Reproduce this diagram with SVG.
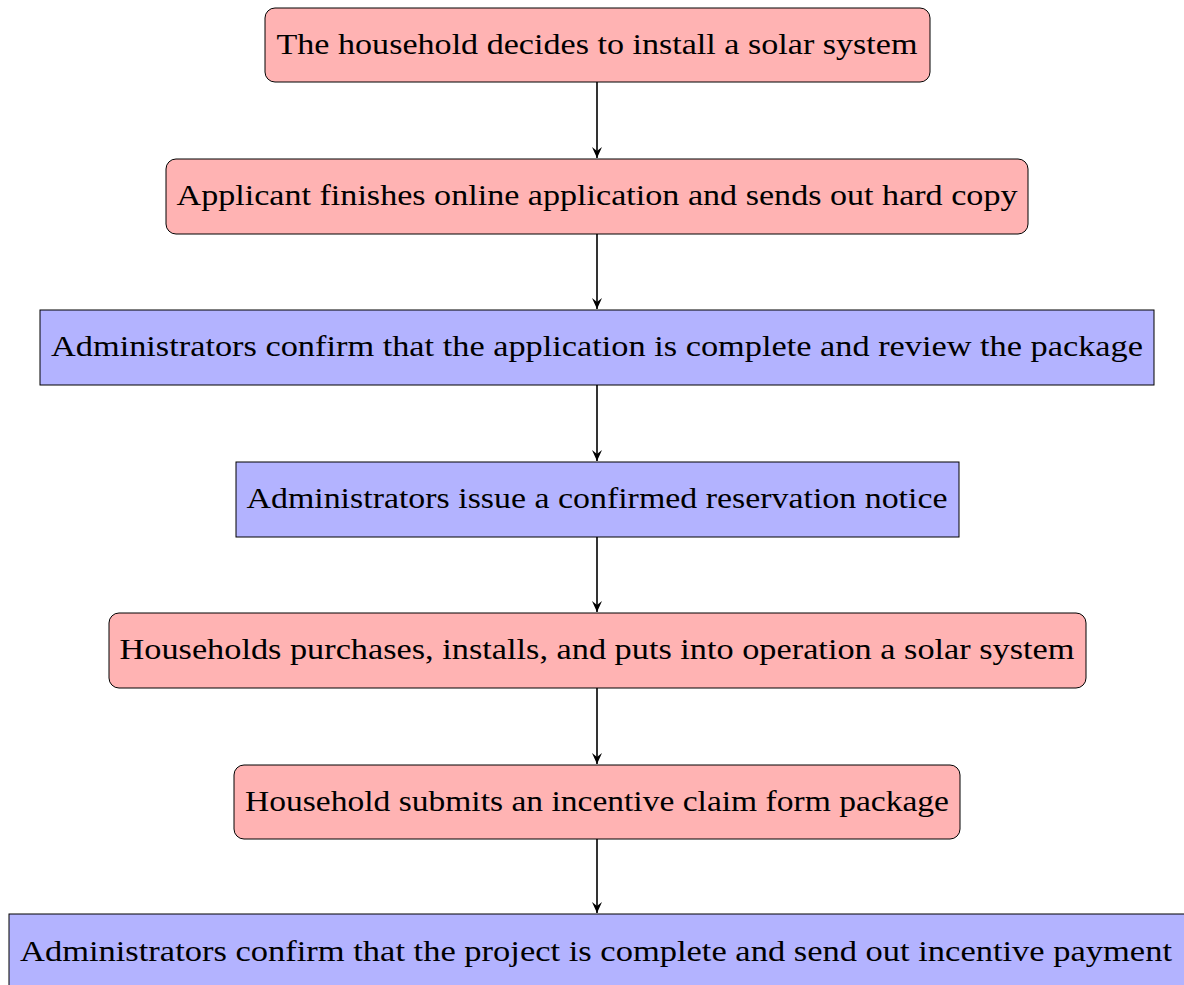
<svg xmlns="http://www.w3.org/2000/svg" width="1184" height="985" viewBox="0 0 1184 985">
<style>
.red{fill:#FFB3B3;stroke:#000;stroke-width:1}
.blue{fill:#B3B3FF;stroke:#000;stroke-width:1}
.t{font-family:"Liberation Serif","Times New Roman","DejaVu Serif",serif;font-size:29px;fill:#000;text-anchor:middle}
.c{stroke:#000;stroke-width:1.6;fill:none;marker-end:url(#ah)}
</style>
<defs>
<marker id="ah" viewBox="0 0 12 12" refX="11" refY="6" markerWidth="12" markerHeight="12" markerUnits="userSpaceOnUse" orient="auto">
<path d="M0,1 L11,6 L0,11 L4,6 Z" fill="#000"/>
</marker>
</defs>
<rect width="1184" height="985" fill="#fff"/>
<g id="connectors">
<line class="c" x1="597" y1="82" x2="597" y2="158"/>
<line class="c" x1="597" y1="234" x2="597" y2="309"/>
<line class="c" x1="597" y1="385" x2="597" y2="461"/>
<line class="c" x1="597" y1="537" x2="597" y2="612"/>
<line class="c" x1="597" y1="688" x2="597" y2="764"/>
<line class="c" x1="597" y1="839" x2="597" y2="913"/>
</g>
<g id="n1"><rect class="red" x="265" y="8" width="665" height="74" rx="10"/><text class="t" x="597" y="54" textLength="641" lengthAdjust="spacingAndGlyphs">The household decides to install a solar system</text></g>
<g id="n2"><rect class="red" x="166" y="159" width="862" height="75" rx="10"/><text class="t" x="597" y="205" textLength="841" lengthAdjust="spacingAndGlyphs">Applicant finishes online application and sends out hard copy</text></g>
<g id="n3"><rect class="blue" x="40" y="310" width="1114" height="75"/><text class="t" x="597" y="356" textLength="1092" lengthAdjust="spacingAndGlyphs">Administrators confirm that the application is complete and review the package</text></g>
<g id="n4"><rect class="blue" x="236" y="462" width="723" height="75"/><text class="t" x="597" y="508" textLength="701" lengthAdjust="spacingAndGlyphs">Administrators issue a confirmed reservation notice</text></g>
<g id="n5"><rect class="red" x="109" y="613" width="977" height="75" rx="10"/><text class="t" x="597" y="659" textLength="955" lengthAdjust="spacingAndGlyphs">Households purchases, installs, and puts into operation a solar system</text></g>
<g id="n6"><rect class="red" x="234" y="765" width="726" height="74" rx="10"/><text class="t" x="597" y="811" textLength="704" lengthAdjust="spacingAndGlyphs">Household submits an incentive claim form package</text></g>
<g id="n7"><rect class="blue" x="9" y="914" width="1180" height="76"/><text class="t" x="596" y="961" textLength="1152" lengthAdjust="spacingAndGlyphs">Administrators confirm that the project is complete and send out incentive payment</text></g>
</svg>
